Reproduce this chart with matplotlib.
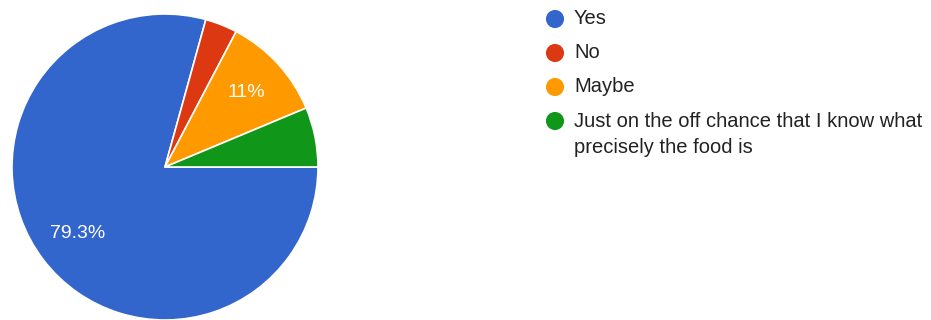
import matplotlib.pyplot as plt

# Survey answers and their shares (percent)
labels = ["Yes", "No", "Maybe",
          "Just on the off chance that I know what\nprecisely the food is"]
shares = [79.3, 3.4, 11.0, 6.3]
colors = ["#3366cc", "#dc3912", "#ff9900", "#109618"]

plt.rcParams["font.family"] = ["Liberation Sans", "DejaVu Sans"]

W, H = 931, 320
fig = plt.figure(figsize=(W / 100, H / 100), dpi=100)

# pie axes: centre (165, 167) px, radius 153 px
cx, cy, r = 165, 167, 153
ax = fig.add_axes([(cx - r) / W, (H - cy - r) / H, 2 * r / W, 2 * r / H])


def pct_label(p):
    if p < 8:
        return ""
    return f"{p:.1f}".rstrip("0").rstrip(".") + "%"


wedges, texts, autotexts = ax.pie(
    shares, colors=colors, startangle=0, counterclock=False,
    autopct=pct_label, pctdistance=0.72, radius=1,
    wedgeprops=dict(edgecolor="white", linewidth=1.2),
    textprops=dict(color="white", fontsize=14),
)
ax.set_xlim(-1, 1)
ax.set_ylim(-1, 1)
ax.set_aspect("equal")
ax.axis("off")

# legend drawn in pixel coordinates
lax = fig.add_axes([0, 0, 1, 1])
lax.set_xlim(0, W)
lax.set_ylim(H, 0)
lax.axis("off")
y0, step = 19, 34
for i, (lab, col) in enumerate(zip(labels, colors)):
    y = y0 + i * step
    lax.scatter(555, y, s=170, color=col, edgecolor="none")
    if "\n" in lab:
        lax.text(574, y - 9, lab, fontsize=14.5, color="#222222",
                 va="top", linespacing=1.45)
    else:
        lax.text(574, y, lab, fontsize=14.5, color="#222222",
                 va="center")

fig.savefig("out.png", dpi=100)
